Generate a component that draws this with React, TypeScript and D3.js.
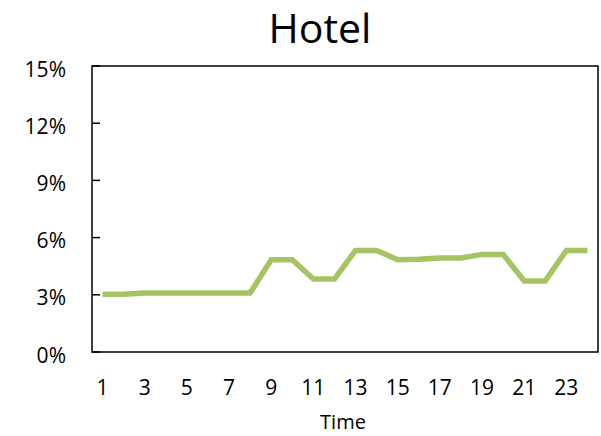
import React from "react";
import * as d3 from "d3";

const times: number[] = Array.from({ length: 24 }, (_, i) => i + 1);
const values: number[] = [
  3.03, 3.03, 3.1, 3.1, 3.1, 3.1, 3.1, 3.1, 4.84, 4.84, 3.83, 3.83,
  5.33, 5.33, 4.84, 4.86, 4.93, 4.93, 5.12, 5.12, 3.73, 3.73, 5.33, 5.33,
];
const yTicks: number[] = [0, 3, 6, 9, 12, 15];
const xTickLabels: number[] = [1, 3, 5, 7, 9, 11, 13, 15, 17, 19, 21, 23];

const W = 601;
const H = 436;
const left = 92;
const right = 598;
const top = 66;
const bottom = 352;
const font = "Open Sans, Liberation Sans, sans-serif";

export default function App() {
  const x = d3
    .scaleBand<number>()
    .domain(times)
    .range([left, right])
    .paddingInner(0)
    .paddingOuter(0);
  const cx = (t: number) => (x(t) as number) + x.bandwidth() / 2;
  const y = d3.scaleLinear().domain([0, 15]).range([bottom, top]);
  const line = d3
    .line<number>()
    .x((_, i) => cx(times[i]))
    .y((d) => y(d));

  return (
    <svg
      width={W}
      height={H}
      style={{ position: "absolute", left: 0, top: 0 }}
      fontFamily={font}
    >
      <rect x={0} y={0} width={W} height={H} fill="#fff" />
      <text x={320} y={43} textAnchor="middle" fontSize={41} fill="#000">
        Hotel
      </text>
      <rect
        x={left}
        y={top}
        width={right - left}
        height={bottom - top}
        fill="none"
        stroke="#000"
        strokeWidth={1.5}
      />
      {yTicks.map((t) => (
        <g key={t}>
          <line x1={left} x2={left + 8} y1={y(t)} y2={y(t)} stroke="#000" strokeWidth={1.5} />
          <text x={66} y={y(t) + 10.5} textAnchor="end" fontSize={21} fill="#000">
            {t}%
          </text>
        </g>
      ))}
      {xTickLabels.map((t) => (
        <text key={t} x={cx(t)} y={395} textAnchor="middle" fontSize={21} fill="#000">
          {t}
        </text>
      ))}
      <text x={343} y={429} textAnchor="middle" fontSize={20} fill="#000">
        Time
      </text>
      <path
        d={line(values) || ""}
        fill="none"
        stroke="#A5C464"
        strokeWidth={5.5}
        strokeLinejoin="miter"
      />
    </svg>
  );
}
